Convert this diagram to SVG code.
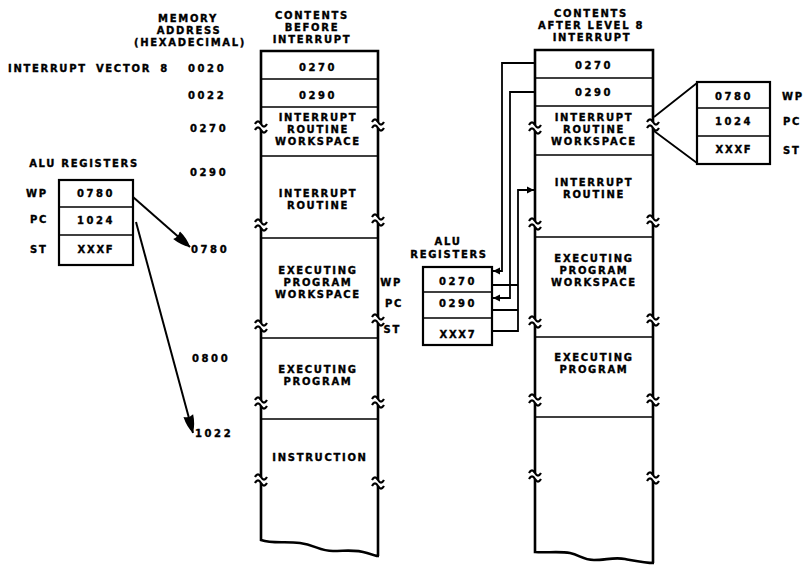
<svg xmlns="http://www.w3.org/2000/svg" width="805" height="565" viewBox="0 0 805 565">
<style>
text{font-family:"DejaVu Sans","Liberation Sans",Arial,sans-serif;font-weight:bold;font-size:10px;letter-spacing:1.7px;fill:#000;stroke:#000;stroke-width:0.35px}
.c{text-anchor:middle}
.e{text-anchor:end}
.n{letter-spacing:2.6px}
.edge{fill:none;stroke:#000;stroke-width:2.6}
.dv{fill:none;stroke:#000;stroke-width:1.6}
.bx{fill:none;stroke:#000;stroke-width:2.2}
.cn{fill:none;stroke:#000;stroke-width:1.8}
.ar{fill:none;stroke:#000;stroke-width:2}
.br{fill:none;stroke:#000;stroke-width:2.2}
</style>
<defs>
<path id="brk" d="M-6,-3 c2,-3.5 4,-3.5 6,0 s4,3.5 6,0 M-6,3 c2,-3.5 4,-3.5 6,0 s4,3.5 6,0"/>
<marker id="ah" markerWidth="19" markerHeight="13" refX="18" refY="6.5" orient="auto" markerUnits="userSpaceOnUse"><path d="M0,1.5 Q10,2 18,6.5 Q10,11 0,11.5 Q3,6.5 0,1.5 Z" fill="#000"/></marker>
<marker id="sh" markerWidth="8" markerHeight="8" refX="7" refY="4" orient="auto" markerUnits="userSpaceOnUse"><path d="M0,0.5 L7,4 L0,7.5 Z" fill="#000"/></marker>
</defs>
<rect width="805" height="565" fill="#fff"/>

<g id="headers">
<text class="c"><tspan x="188" y="22">MEMORY</tspan><tspan x="189" dy="11.8">ADDRESS</tspan><tspan x="190" dy="11.8">(HEXADECIMAL)</tspan></text>
<text class="c"><tspan x="312" y="19">CONTENTS</tspan><tspan x="312" dy="11.8">BEFORE</tspan><tspan x="312" dy="11.8">INTERRUPT</tspan></text>
<text class="c"><tspan x="591" y="17">CONTENTS</tspan><tspan x="591" dy="11.8">AFTER LEVEL 8</tspan><tspan x="592" dy="11.8">INTERRUPT</tspan></text>
</g>

<g id="addresses">
<text x="8" y="72" style="word-spacing:4px">INTERRUPT VECTOR 8</text>
<text class="n" x="188" y="72">0020</text>
<text class="n" x="188" y="99">0022</text>
<text class="n" x="190" y="132">0270</text>
<text class="n" x="190" y="176">0290</text>
<text class="n" x="191" y="253">0780</text>
<text class="n" x="192" y="362">0800</text>
<text class="n" x="195" y="437">1022</text>
</g>

<g id="memory-before">
<path class="edge" d="M261,124 V51 H378 V122 M378,128 V217 M378,223 V317 M378,323 V399 M378,405 V480 M378,486 V556 M261,130 V222 M261,228 V323 M261,329 V400 M261,406 V477 M261,483 V540 C273,544 285,541 300,543 S320,551 333,551 S355,549 367,553 S376,556 379,556"/>
<path class="dv" d="M261,79 H378 M261,107 H378 M261,156 H378 M261,238 H378 M261,338 H378 M261,419 H378"/>
<use href="#brk" class="br" x="261" y="127"/>
<use href="#brk" class="br" x="261" y="225"/>
<use href="#brk" class="br" x="261" y="326"/>
<use href="#brk" class="br" x="261" y="403"/>
<use href="#brk" class="br" x="261" y="480"/>
<use href="#brk" class="br" x="378" y="125"/>
<use href="#brk" class="br" x="378" y="220"/>
<use href="#brk" class="br" x="378" y="320"/>
<use href="#brk" class="br" x="378" y="402"/>
<use href="#brk" class="br" x="378" y="483"/>
<text class="c n" x="318" y="71">0270</text>
<text class="c n" x="318" y="99">0290</text>
<text class="c"><tspan x="318" y="121">INTERRUPT</tspan><tspan x="318" dy="11.8">ROUTINE</tspan><tspan x="318" dy="11.8">WORKSPACE</tspan></text>
<text class="c"><tspan x="318" y="197">INTERRUPT</tspan><tspan x="318" dy="11.8">ROUTINE</tspan></text>
<text class="c"><tspan x="318" y="274">EXECUTING</tspan><tspan x="318" dy="11.8">PROGRAM</tspan><tspan x="318" dy="11.8">WORKSPACE</tspan></text>
<text class="c"><tspan x="318" y="373">EXECUTING</tspan><tspan x="318" dy="11.8">PROGRAM</tspan></text>
<text class="c" x="320" y="461">INSTRUCTION</text>
</g>

<g id="memory-after">
<path class="edge" d="M535,125 V50 H653 V122 M653,128 V218 M653,224 V317 M653,323 V397 M653,403 V475 M653,481 V563 M535,131 V221 M535,227 V319 M535,325 V397 M535,403 V473 M535,479 V552 C545,553 560,551 570,553 S582,560 594,560 S614,557 625,559 S645,563 654,563"/>
<path class="dv" d="M535,78 H653 M535,106 H653 M535,155 H653 M535,237 H653 M535,337 H653 M535,417 H653"/>
<use href="#brk" class="br" x="535" y="128"/>
<use href="#brk" class="br" x="535" y="224"/>
<use href="#brk" class="br" x="535" y="322"/>
<use href="#brk" class="br" x="535" y="400"/>
<use href="#brk" class="br" x="535" y="476"/>
<use href="#brk" class="br" x="653" y="125"/>
<use href="#brk" class="br" x="653" y="221"/>
<use href="#brk" class="br" x="653" y="320"/>
<use href="#brk" class="br" x="653" y="400"/>
<use href="#brk" class="br" x="653" y="478"/>
<text class="c n" x="594" y="69">0270</text>
<text class="c n" x="594" y="96">0290</text>
<text class="c"><tspan x="594" y="121">INTERRUPT</tspan><tspan x="594" dy="11.8">ROUTINE</tspan><tspan x="594" dy="11.8">WORKSPACE</tspan></text>
<text class="c"><tspan x="594" y="186">INTERRUPT</tspan><tspan x="594" dy="11.8">ROUTINE</tspan></text>
<text class="c"><tspan x="594" y="262">EXECUTING</tspan><tspan x="594" dy="11.8">PROGRAM</tspan><tspan x="594" dy="11.8">WORKSPACE</tspan></text>
<text class="c"><tspan x="594" y="361">EXECUTING</tspan><tspan x="594" dy="11.8">PROGRAM</tspan></text>
</g>

<g id="alu-before">
<text class="c" x="84" y="167">ALU REGISTERS</text>
<rect class="bx" x="59" y="180" width="74" height="85"/>
<path class="dv" d="M59,207 H133 M59,235 H133"/>
<text x="26" y="197">WP</text>
<text x="30" y="223">PC</text>
<text x="30" y="253">ST</text>
<text class="c n" x="96" y="197">0780</text>
<text class="c n" x="96" y="224">1024</text>
<text class="c" x="96" y="253">XXXF</text>
</g>

<g id="alu-after">
<text class="c"><tspan x="448" y="245">ALU</tspan><tspan x="449" dy="13">REGISTERS</tspan></text>
<rect class="bx" x="423" y="267" width="69" height="78"/>
<path class="dv" d="M423,292 H492 M423,318 H492"/>
<text class="e" x="402" y="286">WP</text>
<text class="e" x="403" y="307">PC</text>
<text class="e" x="401" y="333">ST</text>
<text class="c n" x="458" y="285">0270</text>
<text class="c n" x="458" y="307">0290</text>
<text class="c" x="458" y="338">XXX7</text>
</g>

<g id="saved-registers">
<rect class="bx" x="697" y="82" width="73" height="82"/>
<path class="dv" d="M697,108 H770 M697,136 H770"/>
<text class="c n" x="734" y="100">0780</text>
<text class="c n" x="734" y="125">1024</text>
<text class="c" x="734" y="153">XXXF</text>
<text x="782" y="100">WP</text>
<text x="783" y="125">PC</text>
<text x="783" y="154">ST</text>
</g>

<g id="connectors">
<path class="ar" d="M133,197 L190,247" marker-end="url(#ah)"/>
<path class="ar" d="M136,222 L193,433" marker-end="url(#ah)"/>
<path class="cn" d="M535,63 H502 V271 H493" marker-end="url(#sh)"/>
<path class="cn" d="M535,92 H510 V298 H493" marker-end="url(#sh)"/>
<path class="cn" d="M492,285 H518 M492,310 H518"/>
<path class="cn" d="M492,331 H518 V190 H534" marker-end="url(#sh)"/>
<path class="cn" d="M697,83 L654,117 M697,163 L654,131"/>
</g>
</svg>
